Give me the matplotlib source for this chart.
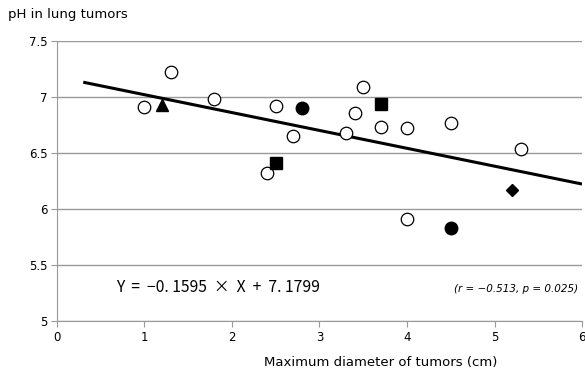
import numpy as np
from matplotlib import pyplot as plt

plt.rcParams['font.family'] = ['DejaVu Sans']

# tumour diameter (cm) vs pH, grouped by marker type
open_x = [1.0, 1.3, 1.8, 2.5, 2.7, 2.4, 3.5, 3.4, 3.3, 3.7, 4.0, 4.5, 5.3, 4.0]
open_y = [6.91, 7.22, 6.98, 6.92, 6.65, 6.32, 7.09, 6.86, 6.68, 6.73, 6.72, 6.77, 6.54, 5.91]
dot_x = [2.8, 4.5]
dot_y = [6.90, 5.83]
square_x = [2.5, 3.7]
square_y = [6.41, 6.94]
tri_x = [1.2]
tri_y = [6.93]
diamond_x = [5.2]
diamond_y = [6.17]

slope, intercept = -0.1595, 7.1799
fit_x = np.array([0.3, 6.0])

fig = plt.figure(figsize=(5.85, 3.74), dpi=100)
ax = fig.add_axes([0.0974, 0.1417, 0.8975, 0.7487])

ax.set_xlim(0, 6)
ax.set_ylim(5, 7.5)
ax.set_xticks(range(0, 7))
ax.set_yticks([5, 5.5, 6, 6.5, 7, 7.5])
ax.set_yticklabels(['5', '5.5', '6', '6.5', '7', '7.5'])
ax.grid(axis='y', color='#999999', lw=1.0)
ax.set_axisbelow(True)
for s in ['top', 'right']:
    ax.spines[s].set_visible(False)
for s in ['left', 'bottom']:
    ax.spines[s].set_color('#999999')
ax.tick_params(direction='out', length=4, color='#999999', labelsize=8.5, pad=3)

ax.plot(fit_x, slope * fit_x + intercept, color='black', lw=2.2, zorder=2, solid_capstyle='butt')

ms = 9
ax.plot(open_x, open_y, 'o', ms=ms, mfc='white', mec='black', mew=0.9, zorder=3)
ax.plot(dot_x, dot_y, 'o', ms=ms, mfc='black', mec='black', zorder=3)
ax.plot(square_x, square_y, 's', ms=8, mfc='black', mec='black', zorder=3)
ax.plot(tri_x, tri_y, '^', ms=9, mfc='black', mec='black', zorder=3)
ax.plot(diamond_x, diamond_y, 'D', ms=6.5, mfc='black', mec='black', zorder=3)

ax.text(0.68, 5.3, 'Y  =  \u22120. 1595  ×  X  +  7. 1799', fontsize=11.3,
        family=['Noto Sans CJK JP', 'DejaVu Sans'], va='center', ha='left')
ax.text(5.96, 5.29, '(r = \u22120.513, p = 0.025)', fontsize=7.5, style='italic',
        va='center', ha='right')

fig.text(0.014, 0.962, 'pH in lung tumors', fontsize=9.5, va='center', ha='left')
fig.text(0.65, 0.032, 'Maximum diameter of tumors (cm)', fontsize=9.5, va='center', ha='center')

fig.savefig('out.png', dpi=100)
